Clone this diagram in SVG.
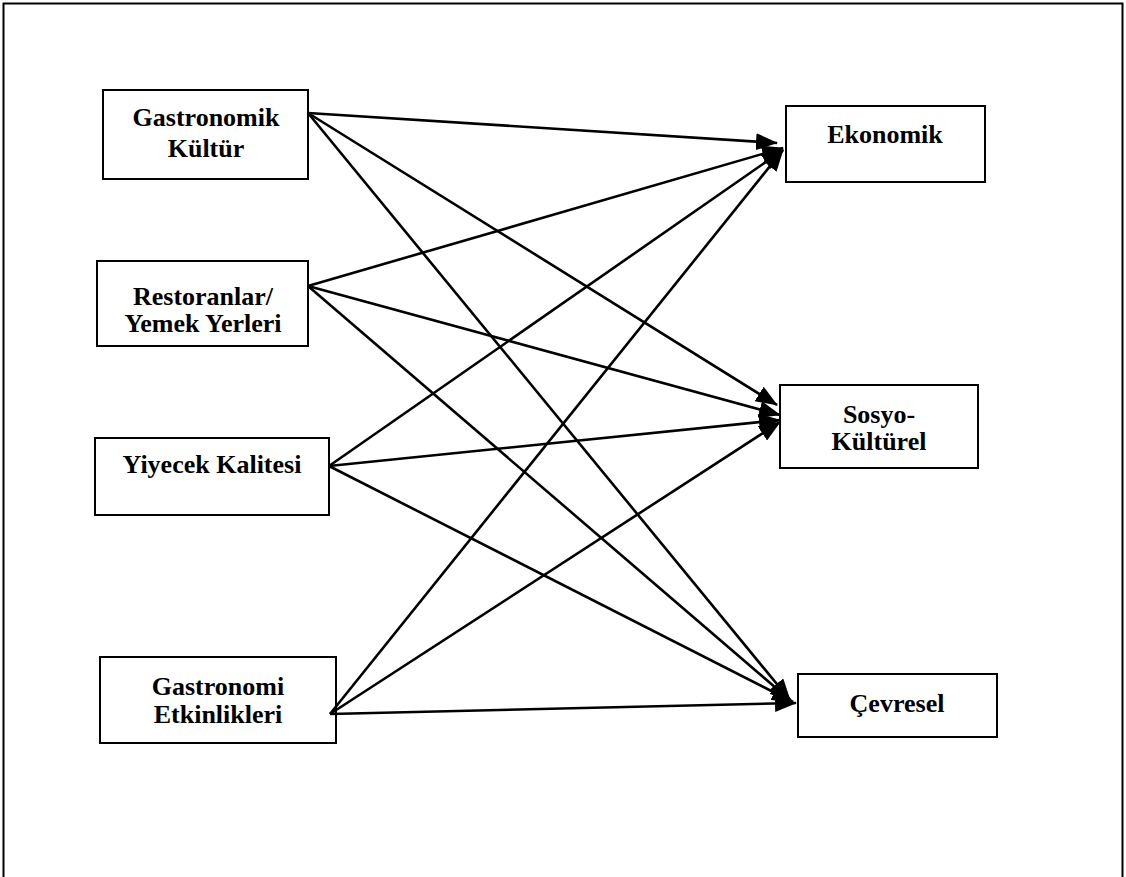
<svg xmlns="http://www.w3.org/2000/svg" width="1126" height="877" viewBox="0 0 1126 877">
<style>
.box{fill:#fff;stroke:#000;stroke-width:2}
.lbl{font-family:"Liberation Serif","Times New Roman",serif;font-weight:bold;font-size:26px;fill:#000;text-anchor:middle}
.con{stroke:#000;stroke-width:2.6;fill:none;marker-end:url(#arr)}
</style>
<defs>
<marker id="arr" viewBox="0 0 22 17" refX="21" refY="8.5" markerWidth="22" markerHeight="17" markerUnits="userSpaceOnUse" orient="auto">
<path d="M0,0 L22,8.5 L0,17 z" fill="#000"/>
</marker>
</defs>
<rect x="3.5" y="3.5" width="1119" height="900" fill="none" stroke="#000" stroke-width="2"/>
<g id="n-gastronomik-kultur">
<rect class="box" x="103" y="90" width="205" height="89"/>
<text class="lbl" x="206" y="126">Gastronomik</text>
<text class="lbl" x="206" y="157">Kültür</text>
</g>
<g id="n-restoranlar">
<rect class="box" x="97" y="261" width="211" height="85"/>
<text class="lbl" x="203" y="305">Restoranlar/</text>
<text class="lbl" x="203" y="332">Yemek Yerleri</text>
</g>
<g id="n-yiyecek">
<rect class="box" x="95" y="438" width="234" height="77"/>
<text class="lbl" x="212" y="473">Yiyecek Kalitesi</text>
</g>
<g id="n-etkinlikler">
<rect class="box" x="100" y="657" width="236" height="86"/>
<text class="lbl" x="218" y="695">Gastronomi</text>
<text class="lbl" x="218" y="723">Etkinlikleri</text>
</g>
<g id="n-ekonomik">
<rect class="box" x="786" y="106" width="199" height="76"/>
<text class="lbl" x="885" y="143">Ekonomik</text>
</g>
<g id="n-sosyo">
<rect class="box" x="780" y="385" width="198" height="83"/>
<text class="lbl" x="879" y="423">Sosyo-</text>
<text class="lbl" x="879" y="450">Kültürel</text>
</g>
<g id="n-cevresel">
<rect class="box" x="798" y="674" width="199" height="63"/>
<text class="lbl" x="897" y="712">Çevresel</text>
</g>
<g id="connectors">
<line class="con" x1="308" y1="113" x2="777" y2="143"/>
<line class="con" x1="308" y1="113" x2="777" y2="405"/>
<line class="con" x1="308" y1="113" x2="790" y2="700"/>
<line class="con" x1="308" y1="286" x2="783" y2="148"/>
<line class="con" x1="308" y1="286" x2="780" y2="415"/>
<line class="con" x1="308" y1="286" x2="791" y2="701"/>
<line class="con" x1="329" y1="466" x2="783" y2="150"/>
<line class="con" x1="329" y1="466" x2="780" y2="420"/>
<line class="con" x1="329" y1="466" x2="793" y2="702"/>
<line class="con" x1="330" y1="714" x2="783" y2="150"/>
<line class="con" x1="330" y1="714" x2="780" y2="422"/>
<line class="con" x1="330" y1="714" x2="796" y2="703"/>
</g>
</svg>
